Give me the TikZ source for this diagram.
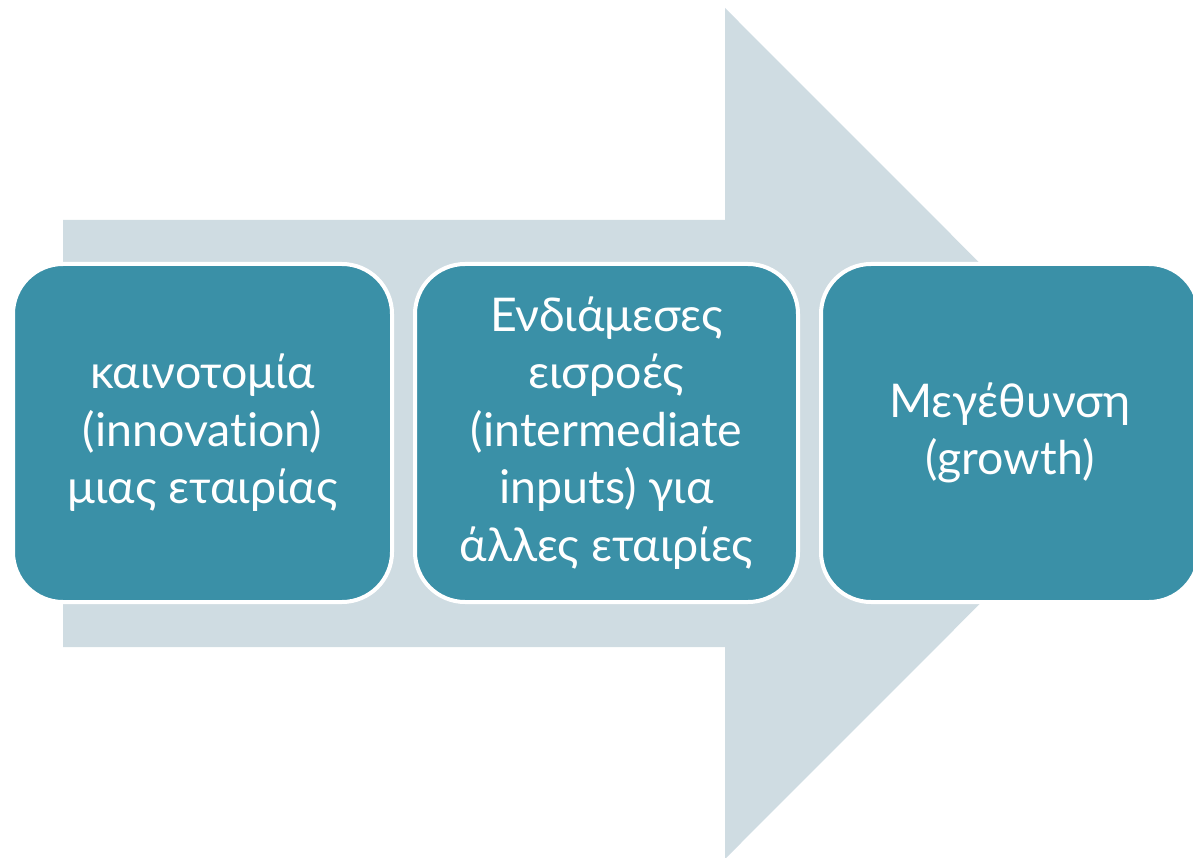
\documentclass[tikz,border=0pt]{standalone}
\usepackage{fontspec}
\setmainfont{Lato}[Ligatures=NoCommon]
\definecolor{arrowc}{HTML}{CFDCE2}
\definecolor{boxc}{HTML}{3A90A7}
\tikzset{
  stagebox/.style={draw=white, line width=4pt, fill=boxc, rounded corners=50pt,
    text=white, align=center, font=\fontsize{46.5}{57.5}\selectfont, inner sep=0pt,
    minimum height=338pt}
}
\begin{document}
\begin{tikzpicture}[x=1pt,y=-1pt]
\useasboundingbox (0,0) rectangle (1193,858);
\clip (0,0) rectangle (1193,858);
\fill[arrowc] (63,220) -- (725,220) -- (725,8) -- (1150,433.5) -- (725,859) -- (725,647) -- (63,647) -- cycle;
\node[stagebox, minimum width=379pt] (a) at (202.5,433) {καινοτομία\\(innovation)\\μιας εταιρίας};
\node[stagebox, minimum width=383pt] (b) at (606.5,433) {Ενδιάμεσες\\εισροές\\(intermediate\\inputs) για\\άλλες εταιρίες};
\node[stagebox, minimum width=378pt] (c) at (1010,433) {Μεγέθυνση\\(growth)};
\end{tikzpicture}
\end{document}
